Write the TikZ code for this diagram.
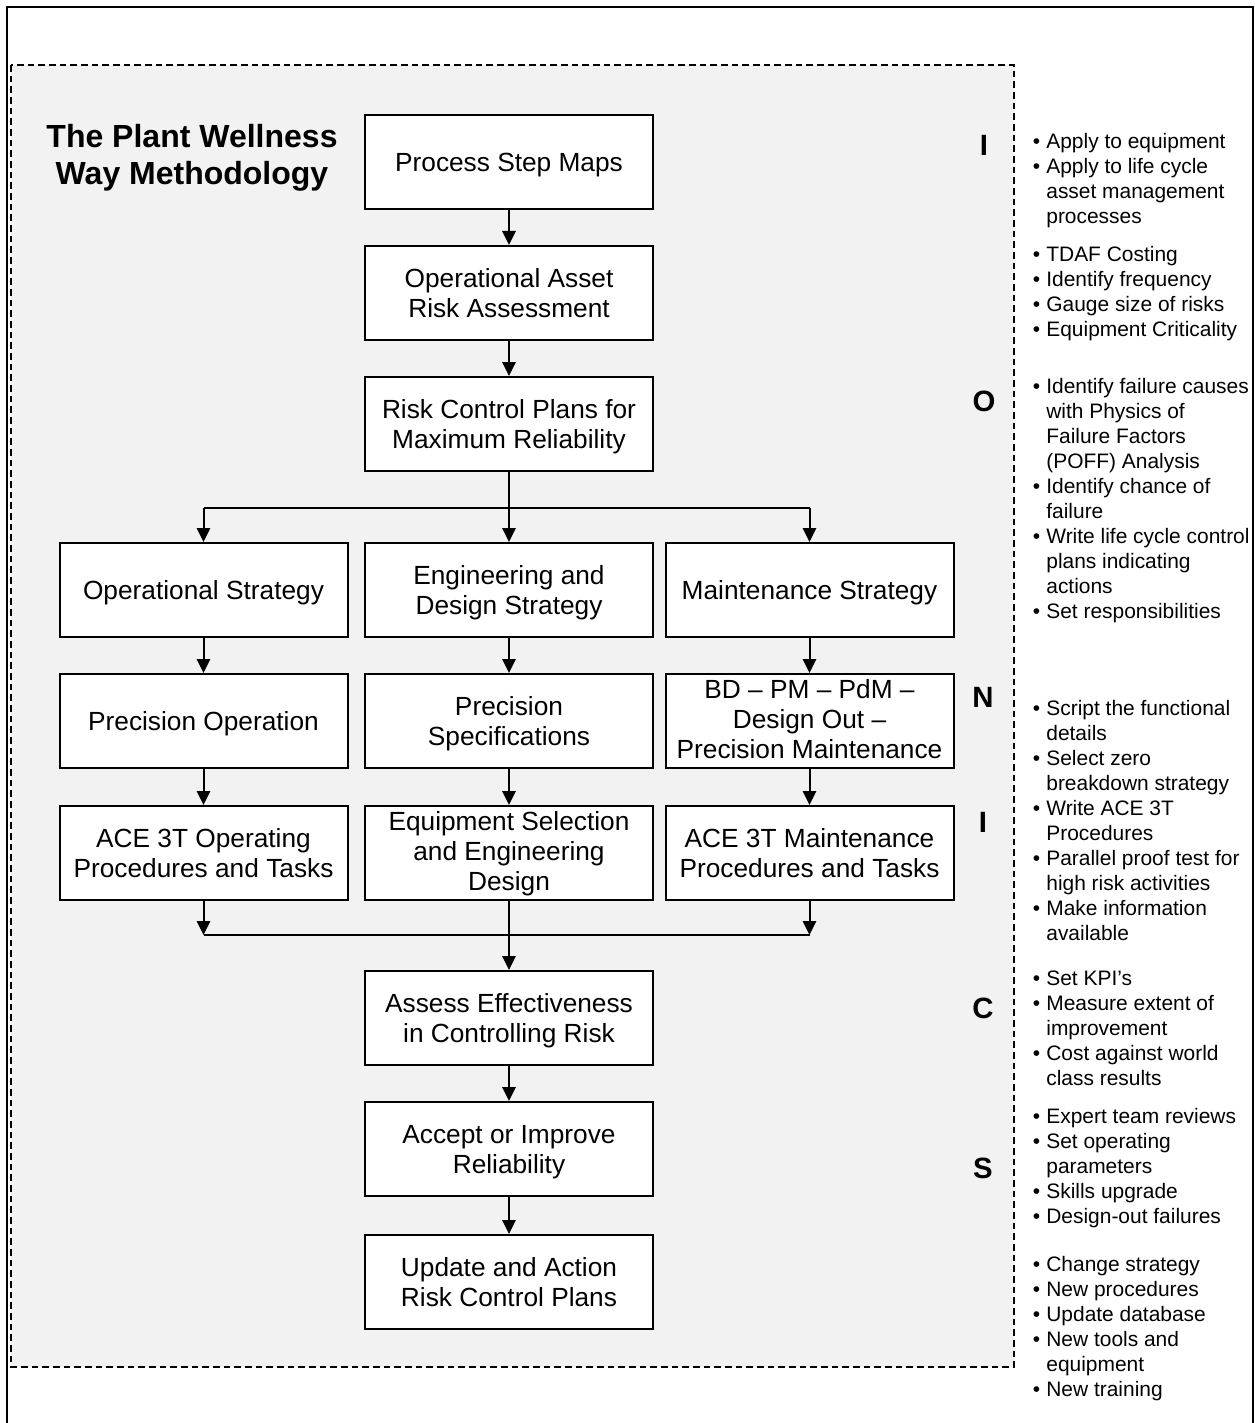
\documentclass[tikz,border=0pt]{standalone}
\usepackage{fontspec}
\setmainfont{Liberation Sans}
\usetikzlibrary{arrows.meta}
\definecolor{panelgray}{HTML}{F2F2F2}

\newcommand\boxfont{\fontsize{19.7pt}{22.5pt}\selectfont}
\newcommand\titlefont{\fontsize{24pt}{27.75pt}\selectfont\bfseries}
\newcommand\notefont{\fontsize{15.7pt}{18.75pt}\selectfont}
\newcommand\letterfont{\fontsize{22pt}{26pt}\selectfont\bfseries}
\newcommand\notelist[1]{\begin{tabular}[t]{@{}l@{\hspace{4.7pt}}l@{}}#1\end{tabular}}
% box text: a taller strut in the first row sets the text slightly low
\newcommand\boxtext[1]{\begin{tabular}{@{}c@{}}\rule{0pt}{20.3pt}#1\end{tabular}}
% three-row box text just fills the box
\newcommand\boxtextfull[1]{\begin{tabular}{@{}c@{}}\rule{0pt}{18.6pt}#1\end{tabular}}

\tikzset{
  stepbox/.style={draw=black, line width=1.5pt, fill=white,
    minimum width=216pt, minimum height=70.5pt, inner xsep=2pt, inner ysep=0pt,
    font=\boxfont},
  flow/.style={line width=1.5pt, -{Triangle[length=10.5pt,width=10pt]}},
  plain/.style={line width=1.5pt},
  notes/.style={inner sep=0pt, anchor=base west, font=\notefont},
  letter/.style={inner sep=0pt, font=\letterfont},
}

\begin{document}
\begin{tikzpicture}[x=0.75pt, y=-0.75pt]
\useasboundingbox (0,0) rectangle (1255,1423);

% outer frame (open at the bottom)
\draw[line width=1.5pt] (7,1423) -- (7,7) -- (1253,7) -- (1253,1423);

% shaded methodology panel
\draw[fill=panelgray, line width=1.2pt, dash pattern=on 5pt off 3pt]
  (11,65) rectangle (1014,1367);

% title
\node[align=center, font=\titlefont, inner sep=0pt] (title) at (192,158)
  {The Plant Wellness\\Way Methodology};

% main column
\node[stepbox] (psm)    at (509,162) {\boxtext{Process Step Maps}};
\node[stepbox] (oara)   at (509,293) {\boxtext{Operational Asset\\Risk Assessment}};
\node[stepbox] (rcp)    at (509,424) {\boxtext{Risk Control Plans for\\Maximum Reliability}};

% three strategy branches
\node[stepbox] (opstr)  at (203.5,590) {\boxtext{Operational Strategy}};
\node[stepbox] (engstr) at (509,590)   {\boxtext{Engineering and\\Design Strategy}};
\node[stepbox] (mntstr) at (809.5,590) {\boxtext{Maintenance Strategy}};

\node[stepbox] (precop)   at (203.5,721) {\boxtext{Precision Operation}};
\node[stepbox] (precspec) at (509,721)   {\boxtext{Precision\\Specifications}};
\node[stepbox] (precmnt)  at (809.5,721) {\boxtextfull{BD – PM – PdM –\\Design Out –\\Precision Maintenance}};

\node[stepbox] (aceop)  at (203.5,853) {\boxtext{ACE 3T Operating\\Procedures and Tasks}};
\node[stepbox] (equip)  at (509,853)   {\boxtextfull{Equipment Selection\\and Engineering\\Design}};
\node[stepbox] (acemnt) at (809.5,853) {\boxtext{ACE 3T Maintenance\\Procedures and Tasks}};

% review loop
\node[stepbox] (assess) at (509,1018) {\boxtext{Assess Effectiveness\\in Controlling Risk}};
\node[stepbox] (accept) at (509,1149) {\boxtext{Accept or Improve\\Reliability}};
\node[stepbox] (update) at (509,1282) {\boxtext{Update and Action\\Risk Control Plans}};

% connectors
\draw[flow] (psm) -- (oara);
\draw[flow] (oara) -- (rcp);

\coordinate (split) at (509,508);
\draw[flow] (rcp) -- (engstr);
\draw[plain] (opstr.north |- split) -- (mntstr.north |- split);
\draw[flow] (opstr.north |- split) -- (opstr.north);
\draw[flow] (mntstr.north |- split) -- (mntstr.north);

\draw[flow] (opstr) -- (precop);
\draw[flow] (engstr) -- (precspec);
\draw[flow] (mntstr) -- (precmnt);
\draw[flow] (precop) -- (aceop);
\draw[flow] (precspec) -- (equip);
\draw[flow] (precmnt) -- (acemnt);

\coordinate (merge) at (509,935);
\draw[flow] (aceop.south) -- (aceop.south |- merge);
\draw[flow] (acemnt.south) -- (acemnt.south |- merge);
\draw[plain] (aceop.south |- merge) -- (acemnt.south |- merge);
\draw[flow] (equip) -- (assess);
\draw[flow] (assess) -- (accept);
\draw[flow] (accept) -- (update);

% ICONICS letters
\node[letter] (lI1) at (984,145)  {I};
\node[letter] (lO)  at (984,401)  {O};
\node[letter] (lN)  at (983,697)  {N};
\node[letter] (lI2) at (983,822)  {I};
\node[letter] (lC)  at (983,1008) {C};
\node[letter] (lS)  at (983,1168) {S};

% notes beside the panel
\node[notes] (n1) at (1032.5,149) {\notelist{%
  • & Apply to equipment\\
  • & Apply to life cycle\\
    & asset management\\
    & processes}};
\node[notes] (n2) at (1032.5,262) {\notelist{%
  • & TDAF Costing\\
  • & Identify frequency\\
  • & Gauge size of risks\\
  • & Equipment Criticality}};
\node[notes] (n3) at (1032.5,393) {\notelist{%
  • & Identify failure causes\\
    & with Physics of\\
    & Failure Factors\\
    & (POFF) Analysis\\
  • & Identify chance of\\
    & failure\\
  • & Write life cycle control\\
    & plans indicating\\
    & actions\\
  • & Set responsibilities}};
\node[notes] (n4) at (1032.5,715) {\notelist{%
  • & Script the functional\\
    & details\\
  • & Select zero\\
    & breakdown strategy\\
  • & Write ACE 3T\\
    & Procedures\\
  • & Parallel proof test for\\
    & high risk activities\\
  • & Make information\\
    & available}};
\node[notes] (n5) at (1032.5,985) {\notelist{%
  • & Set KPI’s\\
  • & Measure extent of\\
    & improvement\\
  • & Cost against world\\
    & class results}};
\node[notes] (n6) at (1032.5,1123) {\notelist{%
  • & Expert team reviews\\
  • & Set operating\\
    & parameters\\
  • & Skills upgrade\\
  • & Design-out failures}};
\node[notes] (n7) at (1032.5,1271) {\notelist{%
  • & Change strategy\\
  • & New procedures\\
  • & Update database\\
  • & New tools and\\
    & equipment\\
  • & New training}};
\end{tikzpicture}
\end{document}
